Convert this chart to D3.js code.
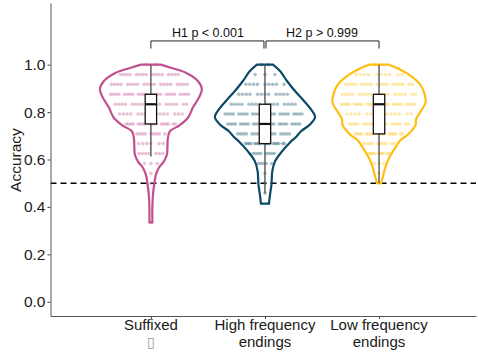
<!DOCTYPE html>
<html>
<head>
<meta charset="utf-8">
<script src="https://cdn.jsdelivr.net/npm/d3@7"></script>
<style>
  body { margin: 0; background: #fff; }
  text { font-family: "Liberation Sans", Arial, sans-serif; }
</style>
</head>
<body>
<div id="vis"></div>
<script>
var W = 478, H = 353;

// groups on the x axis
var categories = ['Suffixed', 'High frequency endings', 'Low frequency endings'];
var labelLines = [['Suffixed', '\u25AF'], ['High frequency', 'endings'], ['Low frequency', 'endings']];
var colors = ['#C2508F', '#0B4A66', '#FFBF0F'];

var yTicks = [0, 0.2, 0.4, 0.6, 0.8, 1.0];
var chance = 0.5;

// accuracy levels the participants' scores fall on (k/24)
var levels = [1, 0.958, 0.917, 0.875, 0.833, 0.792, 0.75, 0.708, 0.667, 0.625, 0.583, 0.542, 0.5, 0.458, 0.417, 0.375, 0.333];
// number of participants at each level, per group
var countsSuffixed = [2, 16, 20, 24, 18, 15, 18, 9, 6, 7, 3, 1, 1, 0, 0, 0, 1];
var countsHigh     = [2, 3, 9, 12, 16, 24, 24, 16, 18, 8, 5, 1, 1, 1, 0, 0, 0];
var countsLow      = [2, 10, 18, 18, 24, 14, 18, 18, 10, 10, 3, 1, 1, 0, 0, 0, 0];

// violin half widths (category units) at accuracy values
var violinSuffixed = [[1.0, 0.088], [0.987, 0.175], [0.966, 0.307], [0.931, 0.412], [0.896, 0.447], [0.861, 0.421],
  [0.819, 0.368], [0.776, 0.325], [0.745, 0.254], [0.719, 0.167], [0.69, 0.149], [0.65, 0.145], [0.62, 0.14],
  [0.592, 0.114], [0.565, 0.07], [0.536, 0.044], [0.502, 0.031], [0.451, 0.018], [0.397, 0.013], [0.335, 0.013]];
var violinHigh = [[1.0, 0.07], [0.973, 0.132], [0.931, 0.193], [0.889, 0.263], [0.847, 0.342], [0.811, 0.404],
  [0.779, 0.439], [0.748, 0.395], [0.719, 0.316], [0.695, 0.272], [0.676, 0.228], [0.634, 0.149], [0.592, 0.088],
  [0.55, 0.064], [0.494, 0.057], [0.451, 0.044], [0.414, 0.035]];
var violinLow = [[1.0, 0.083], [0.98, 0.184], [0.952, 0.281], [0.917, 0.36], [0.882, 0.395], [0.84, 0.408],
  [0.805, 0.368], [0.77, 0.325], [0.745, 0.32], [0.719, 0.281], [0.699, 0.237], [0.684, 0.193], [0.648, 0.14],
  [0.606, 0.088], [0.564, 0.053], [0.529, 0.035], [0.5, 0.018]];

// boxplot stats: lower whisker, q1, median, q3, upper whisker
var boxSuffixed = [0.613, 0.75, 0.833, 0.875, 1.0];
var boxHigh     = [0.458, 0.667, 0.75, 0.833, 1.0];
var boxLow      = [0.5, 0.708, 0.833, 0.875, 1.0];

var comparisons = [
  {from: 1, to: 2, label: 'H1 p < 0.001'},
  {from: 2, to: 3, label: 'H2 p > 0.999'}
];

var groups = [
  {violin: violinSuffixed, counts: countsSuffixed, box: boxSuffixed},
  {violin: violinHigh, counts: countsHigh, box: boxHigh},
  {violin: violinLow, counts: countsLow, box: boxLow}
];

var x = d3.scaleLinear().domain([0.12, 3.85]).range([50.5, 476]);
var y = d3.scaleLinear().domain([-0.06, 1.26]).range([316, 3]);

var svg = d3.select('#vis').append('svg')
    .attr('width', W)
    .attr('height', H);

// chance line
svg.append('line')
  .attr('x1', x.range()[0]).attr('x2', x.range()[1])
  .attr('y1', y(chance)).attr('y2', y(chance))
  .attr('stroke', '#000')
  .attr('stroke-width', 1.4)
  .attr('stroke-dasharray', '6,4');

groups.forEach(function(g, i) {
  var cx = i + 1;
  var col = colors[i];
  var prof = g.violin.slice().sort(function(a, b) { return a[0] - b[0]; });
  var widthAt = d3.scaleLinear().domain(prof.map(function(d) { return d[0]; }))
      .range(prof.map(function(d) { return d[1]; })).clamp(true);

  // dots, one row per accuracy level, small gaps every few dots
  var dots = [];
  levels.forEach(function(v, j) {
    var n = g.counts[j];
    if (!n) return;
    var w = widthAt(v) * 0.85;
    var slots = n + Math.floor(n / 4);
    var s = 0;
    for (var k = 0; k < n; k++) {
      if (k > 0 && k % 4 === 0) s++;
      var off = n === 1 ? 0 : -w + (s + 0.5) * (2 * w / slots);
      dots.push({x: cx + off, y: v});
      s++;
    }
  });
  svg.append('g').selectAll('circle')
    .data(dots)
    .enter()
    .append('circle')
    .attr('cx', function(d) { return x(d.x); })
    .attr('cy', function(d) { return y(d.y); })
    .attr('r', 1.8)
    .attr('fill', col)
    .attr('fill-opacity', 0.35);

  // violin outline
  var area = d3.area()
    .y(function(d) { return y(d[0]); })
    .x0(function(d) { return x(cx - d[1]); })
    .x1(function(d) { return x(cx + d[1]); })
    .curve(d3.curveCatmullRom);
  svg.append('path')
    .datum(g.violin)
    .attr('d', area)
    .attr('fill', 'none')
    .attr('stroke', col)
    .attr('stroke-width', 2.2);

  // boxplot
  var b = g.box, bw = 0.05;
  svg.append('line')
    .attr('x1', x(cx)).attr('x2', x(cx))
    .attr('y1', y(b[0])).attr('y2', y(b[4]))
    .attr('stroke', '#555')
    .attr('stroke-width', 1.4);
  svg.append('rect')
    .attr('x', x(cx - bw))
    .attr('width', x(cx + bw) - x(cx - bw))
    .attr('y', y(b[3]))
    .attr('height', y(b[1]) - y(b[3]))
    .attr('fill', '#fff')
    .attr('stroke', '#111')
    .attr('stroke-width', 1.3);
  svg.append('line')
    .attr('x1', x(cx - bw)).attr('x2', x(cx + bw))
    .attr('y1', y(b[2])).attr('y2', y(b[2]))
    .attr('stroke', '#111')
    .attr('stroke-width', 2.2);
});

// significance brackets
var brTop = 1.10, brTip = 1.068;
comparisons.forEach(function(c, i) {
  var x1 = x(c.from) + (i === 1 ? 1 : 0), x2 = x(c.to) - (i === 0 ? 1 : 0);
  svg.append('path')
    .attr('d', 'M' + x1 + ',' + y(brTip) + 'V' + y(brTop) + 'H' + x2 + 'V' + y(brTip))
    .attr('fill', 'none')
    .attr('stroke', '#222')
    .attr('stroke-width', 1);
  svg.append('text')
    .attr('x', (x(c.from) + x(c.to)) / 2)
    .attr('y', y(brTop) - 4)
    .attr('text-anchor', 'middle')
    .attr('font-size', 12.5)
    .attr('fill', '#111')
    .text(c.label);
});

// axes
var yAxis = d3.axisLeft(y).tickValues(yTicks).tickFormat(d3.format('.1f')).tickSize(3).tickSizeOuter(0).tickPadding(2);
var gy = svg.append('g').attr('transform', 'translate(' + x.range()[0] + ',0)').call(yAxis);
gy.selectAll('text').attr('font-size', 15.5).attr('fill', '#1a1a1a').style('font-family', '"Liberation Sans", Arial, sans-serif');
gy.selectAll('line').attr('stroke', '#444');
gy.select('.domain').attr('stroke', '#555');

var xAxis = d3.axisBottom(x).tickValues([1, 2, 3]).tickFormat('').tickSize(3).tickSizeOuter(0);
var gx = svg.append('g').attr('transform', 'translate(0,' + y.range()[0] + ')').call(xAxis);
gx.selectAll('line').attr('stroke', '#444');
gx.select('.domain').attr('stroke', '#555');

labelLines.forEach(function(lines, i) {
  var t = svg.append('text')
    .attr('x', x(i + 1))
    .attr('y', 330)
    .attr('text-anchor', 'middle')
    .attr('font-size', 15)
    .attr('fill', '#1a1a1a');
  t.append('tspan').attr('x', x(i + 1)).attr('dy', 0).text(lines[0]);
  var second = t.append('tspan').attr('x', x(i + 1)).attr('dy', 17).text(lines[1]);
  if (i === 0) second.attr('fill', '#999').attr('font-size', 14).style('font-family', '"DejaVu Sans", sans-serif');
});

svg.append('text')
  .attr('transform', 'translate(21,160)rotate(-90)')
  .attr('text-anchor', 'middle')
  .attr('font-size', 15.5)
  .attr('fill', '#1a1a1a')
  .text('Accuracy');
</script>
</body>
</html>
